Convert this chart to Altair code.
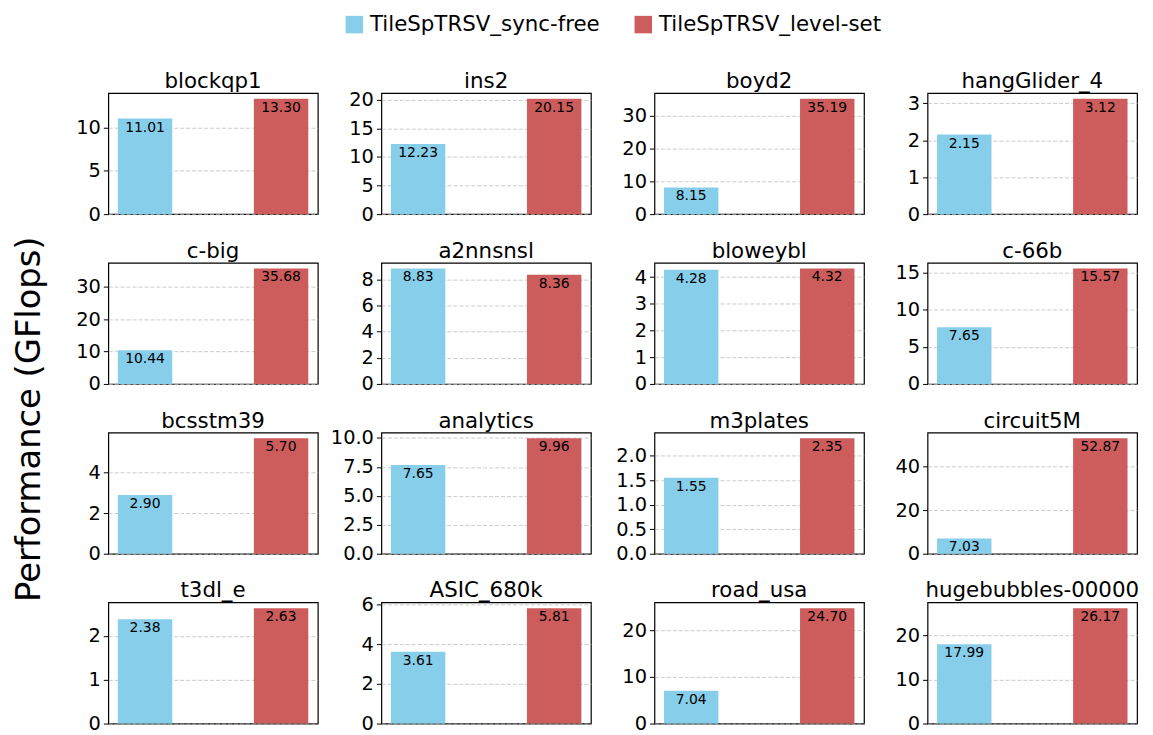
import altair as alt
import pandas as pd

names = ["blockqp1", "ins2", "boyd2", "hangGlider_4",
         "c-big", "a2nnsnsl", "bloweybl", "c-66b",
         "bcsstm39", "analytics", "m3plates", "circuit5M",
         "t3dl_e", "ASIC_680k", "road_usa", "hugebubbles-00000"]
sync_free = [11.01, 12.23, 8.15, 2.15,
             10.44, 8.83, 4.28, 7.65,
             2.90, 7.65, 1.55, 7.03,
             2.38, 3.61, 7.04, 17.99]
level_set = [13.30, 20.15, 35.19, 3.12,
             35.68, 8.36, 4.32, 15.57,
             5.70, 9.96, 2.35, 52.87,
             2.63, 5.81, 24.70, 26.17]
tick_values = [[0, 5, 10], [0, 5, 10, 15, 20], [0, 10, 20, 30], [0, 1, 2, 3],
               [0, 10, 20, 30], [0, 2, 4, 6, 8], [0, 1, 2, 3, 4], [0, 5, 10, 15],
               [0, 2, 4], [0, 2.5, 5, 7.5, 10], [0, 0.5, 1, 1.5, 2], [0, 20, 40],
               [0, 1, 2], [0, 2, 4, 6], [0, 10, 20], [0, 10, 20]]
methods = ["TileSpTRSV_sync-free", "TileSpTRSV_level-set"]
colors = ["#87CEEB", "#CD5C5C"]
FONT = "DejaVu Sans"
W, H = 211, 122

panels = []
for i, name in enumerate(names):
    df = pd.DataFrame({"method": methods, "value": [sync_free[i], level_set[i]]})
    ymax = max(sync_free[i], level_set[i]) * 1.05
    ticks = tick_values[i]
    fmt = ".1f" if any(float(t) != int(t) for t in ticks) else "d"
    base = alt.Chart(df).encode(
        x=alt.X("method:N", sort=methods, axis=None,
                scale=alt.Scale(paddingInner=0.6, paddingOuter=0.07)),
        y=alt.Y("value:Q", title=None,
                scale=alt.Scale(domain=[0, ymax], nice=False, zero=True),
                axis=alt.Axis(values=ticks, format=fmt, grid=True, gridColor="#bdbdbd",
                              gridDash=[4, 2], gridWidth=0.8, domain=False,
                              tickColor="black", tickSize=5, tickWidth=1,
                              labelColor="black", labelFontSize=19.5, labelFont=FONT,
                              labelPadding=3)),
    )
    bars = base.mark_bar().encode(
        color=alt.Color("method:N", sort=methods,
                        scale=alt.Scale(domain=methods, range=colors),
                        legend=alt.Legend(title=None, orient="none", direction="horizontal",
                                          legendX=237, legendY=-80,
                                          symbolType="square", symbolSize=310,
                                          symbolStrokeWidth=0, labelLimit=0,
                                          labelFontSize=21.5, labelFont=FONT,
                                          labelColor="black", columnPadding=32,
                                          labelOffset=5))
    )
    labels = base.mark_text(baseline="top", dy=2, fontSize=14, font=FONT, color="black").encode(
        text=alt.Text("value:Q", format=".2f")
    )
    title = alt.Chart(pd.DataFrame({"name": [name]})).mark_text(
        baseline="alphabetic", align="center", fontSize=21.5, font=FONT, color="black"
    ).encode(text="name:N", x=alt.value(W / 2), y=alt.value(-5))
    panel = alt.layer(bars, labels, title).properties(
        width=W, height=H,
        view=alt.ViewBackground(stroke="black", strokeWidth=1.2),
    )
    panels.append(panel)

chart = alt.concat(*panels, columns=4, spacing=alt.RowColnumber(row=49, column=64),
                   bounds="flush").properties(
    title=alt.TitleParams("Performance (GFlops)", orient="left", anchor="middle",
                          fontSize=34, font=FONT, fontWeight="normal", color="black",
                          offset=28, dx=-46),
    padding=alt.Padding(top=3, left=5, right=5, bottom=5),
).configure(background="white").configure_view(stroke="black", strokeWidth=1.2)

chart.save("out.html", embed_options={"renderer": "svg", "actions": False})
